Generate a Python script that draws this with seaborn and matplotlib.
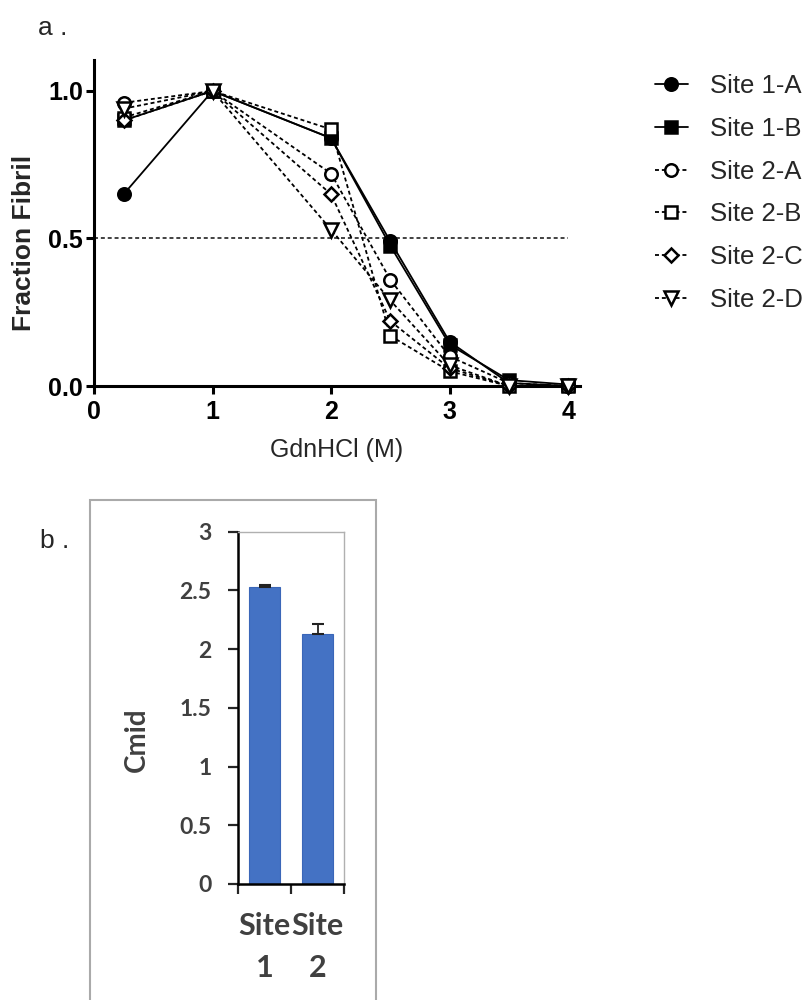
import numpy as np
import pandas as pd
import matplotlib
matplotlib.use("Agg")
import matplotlib.pyplot as plt
import seaborn as sns
from matplotlib.patches import Rectangle

# datos del panel a
gdn = [0.25, 1, 2, 2.5, 3, 3.5, 4]
site_1a = [0.65, 1.00, 0.84, 0.49, 0.15, 0.01, 0.00]
site_1b = [0.90, 1.00, 0.84, 0.475, 0.14, 0.02, 0.005]
site_2a = [0.96, 1.00, 0.72, 0.36, 0.10, 0.01, 0.00]
site_2b = [0.91, 1.00, 0.87, 0.17, 0.05, 0.00, 0.00]
site_2c = [0.90, 1.00, 0.65, 0.22, 0.06, 0.00, 0.00]
site_2d = [0.94, 1.00, 0.53, 0.29, 0.07, 0.00, 0.00]
series_names = ['Site 1-A', 'Site 1-B', 'Site 2-A', 'Site 2-B', 'Site 2-C', 'Site 2-D']

# datos del panel b
sites = ['Site\n1', 'Site\n2']
cmid = [2.53, 2.13]
cmid_err = [0.015, 0.08]

sns.set_theme(style='white')
plt.rcParams['font.family'] = ['Liberation Sans', 'DejaVu Sans']

fig = plt.figure(figsize=(8.06, 10), dpi=100)

# ---- Panel a ----
ax = fig.add_axes([94 / 806, 1 - 386 / 1000, (580 - 94) / 806, (386 - 60) / 1000])
dash = (0, (2.2, 1.6))
estilos = [
    dict(marker='o', ls='-', mfc='black', ms=9),
    dict(marker='s', ls='-', mfc='black', ms=9),
    dict(marker='o', ls=dash, mfc='white', ms=9),
    dict(marker='s', ls=dash, mfc='white', ms=9),
    dict(marker='D', ls=dash, mfc='white', ms=7),
    dict(marker='v', ls=dash, mfc='white', ms=10),
]
valores = [site_1a, site_1b, site_2a, site_2b, site_2c, site_2d]
for nombre, vals, st in zip(series_names, valores, estilos):
    sns.lineplot(x=gdn, y=vals, ax=ax, color='black', lw=1.3,
                 marker=st['marker'], linestyle=st['ls'], markersize=st['ms'],
                 markerfacecolor=st['mfc'], markeredgecolor='black',
                 markeredgewidth=1.8, label=nombre, clip_on=False, zorder=3)

ax.axhline(0.5, color='#333333', lw=1.3, ls=dash, xmin=0, xmax=4.0 / 4.1)
ax.set_xlim(0, 4.1)
ax.set_ylim(0, 1.105)
ax.set_xticks([0, 1, 2, 3, 4])
ax.set_yticks([0.0, 0.5, 1.0])
ax.set_yticklabels(['0.0', '0.5', '1.0'])
for s in ['top', 'right']:
    ax.spines[s].set_visible(False)
for s in ['left', 'bottom']:
    ax.spines[s].set_color('black')
    ax.spines[s].set_linewidth(2.2)
ax.tick_params(axis='both', direction='out', length=6, width=2.2, colors='black',
               labelsize=18, bottom=True, left=True)
ax.tick_params(axis='x', pad=4)
ax.tick_params(axis='y', pad=2)
for lab in ax.get_xticklabels() + ax.get_yticklabels():
    lab.set_fontweight('bold')
ax.set_xlabel('GdnHCl (M)', fontsize=18)
ax.xaxis.set_label_coords(0.5, -0.16)
ax.set_ylabel('Fraction Fibril', fontsize=19, fontweight='bold')
ax.yaxis.set_label_coords(-0.12, 0.44)
leg = ax.legend(loc='upper left', bbox_to_anchor=(655 / 806, 1 - 74 / 1000),
                bbox_transform=fig.transFigure, frameon=False,
                fontsize=18.5, handlelength=1.28, labelspacing=0.73, handletextpad=0.86,
                borderaxespad=0, borderpad=0)

fig.text(38 / 806, 1 - 28 / 1000, 'a .', fontsize=19, va='center')

# ---- Panel b ----
fig.add_artist(Rectangle((90 / 806, -0.01), (376 - 90) / 806, 1 - 500 / 1000 + 0.01,
                         transform=fig.transFigure, fill=False,
                         edgecolor='#aaaaaa', lw=1.5))
fig.text(40 / 806, 1 - 541 / 1000, 'b .', fontsize=19, va='center')

bx = fig.add_axes([238 / 806, 1 - 884 / 1000, (344 - 238) / 806, (884 - 531.7) / 1000])
df_b = pd.DataFrame({'site': sites, 'cmid': cmid})
sns.barplot(data=df_b, x='site', y='cmid', ax=bx, color='#4472C4', saturation=1,
            width=0.57, edgecolor='#3A66B8', linewidth=0.8)
bx.errorbar([0, 1], cmid, yerr=[[0, 0], cmid_err], fmt='none', ecolor='#222222',
            elinewidth=1.3, capsize=4, capthick=1.5)
bx.set_xlim(-0.5, 1.5)
bx.set_ylim(0, 3)
bx.set_yticks([0, 0.5, 1, 1.5, 2, 2.5, 3])
bx.set_yticklabels(['0', '0.5', '1', '1.5', '2', '2.5', '3'])
bx.set_xticks([-0.5, 0.5, 1.5], minor=True)
bx.tick_params(axis='x', which='minor', length=7, width=1.6, direction='out', bottom=True)
bx.tick_params(axis='x', which='major', length=0, pad=20)
bx.tick_params(axis='y', length=7, width=1.6, direction='out', left=True, pad=12)
for s in ['top', 'right']:
    bx.spines[s].set_color('#b0b0b0')
    bx.spines[s].set_linewidth(1)
for s in ['left', 'bottom']:
    bx.spines[s].set_color('black')
    bx.spines[s].set_linewidth(1.8)
for lab in bx.get_yticklabels():
    lab.set_family(['Lato', 'DejaVu Sans'])
    lab.set_fontweight('bold')
    lab.set_fontsize(16.5)
    lab.set_color('#404040')
for lab in bx.get_xticklabels():
    lab.set_family(['Lato', 'DejaVu Sans'])
    lab.set_fontweight('bold')
    lab.set_fontsize(22)
    lab.set_color('#404040')
    lab.set_linespacing(1.6)
bx.set_xlabel('')
bx.set_ylabel('Cmid', fontsize=20, fontweight='bold', color='#404040',
              family=['Lato', 'DejaVu Sans'])
bx.yaxis.set_label_coords(-0.83, 0.41)

fig.savefig('out.png', dpi=100)
